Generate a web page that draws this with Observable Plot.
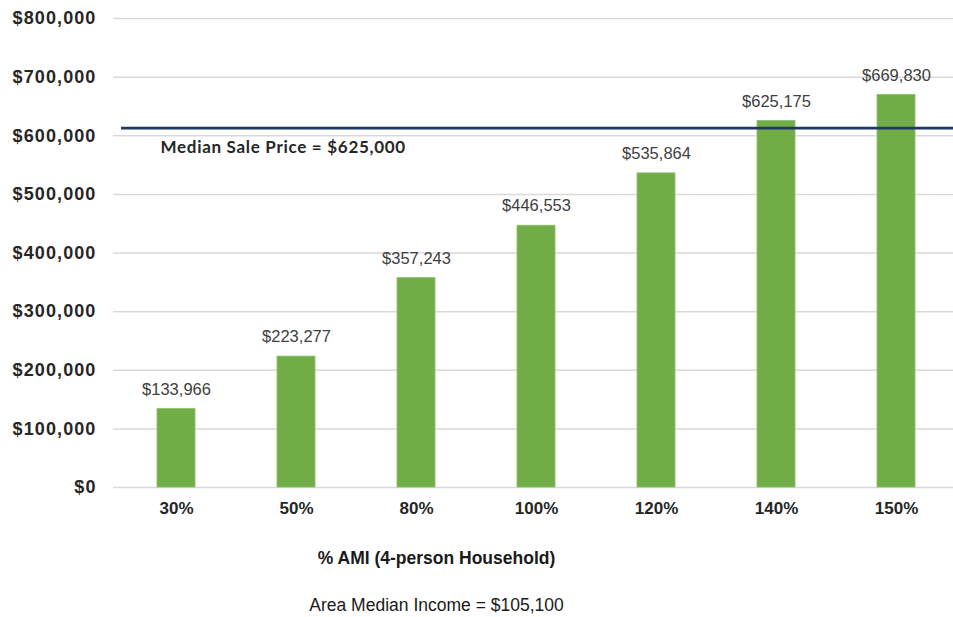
<!DOCTYPE html>
<html>
<head>
<meta charset="utf-8">
<script src="https://cdn.jsdelivr.net/npm/d3@7"></script>
<script src="https://cdn.jsdelivr.net/npm/@observablehq/plot@0.6"></script>
<style>
  html, body { margin: 0; padding: 0; background: #fff; overflow: hidden; }
  #chart { width: 953px; height: 617px; }
  .ylab text { letter-spacing: 1.1px; }
  .medlab text { letter-spacing: 0.7px; }
</style>
</head>
<body>
<div id="chart"></div>
<script>
// ---- data ----
const categories = ["30%", "50%", "80%", "100%", "120%", "140%", "150%"];
const prices = [133966, 223277, 357243, 446553, 535864, 625175, 669830];
const yTicks = [0, 100000, 200000, 300000, 400000, 500000, 600000, 700000, 800000];
const medianSalePrice = 625000;      // value in the label
const medianLineDrawn = 613000;      // level at which the line is drawn in the picture
const xLabel = "% AMI (4-person Household)";
const caption = "Area Median Income = $105,100";

const data = categories.map((c, i) => ({ami: c, price: prices[i]}));
const fmt = d3.format("$,");
const font = "'Liberation Sans', Arial, sans-serif";

const chart = Plot.plot({
  width: 953,
  height: 617,
  marginLeft: 113,
  marginRight: 0,
  marginTop: 18,
  marginBottom: 130,
  style: {fontFamily: font, background: "#fff", overflow: "visible"},
  x: {domain: categories, range: [112.6, 958.2], paddingInner: 0.685, paddingOuter: 0.3425, axis: null},
  y: {domain: [0, 800000], axis: null},
  marks: [
    Plot.ruleY(yTicks, {stroke: "#d9d9d9", strokeWidth: 1.5}),
    Plot.text(yTicks, {y: d => d, frameAnchor: "left", dx: -17, textAnchor: "end", text: d => fmt(d),
      fontSize: 18, fontWeight: "bold", fill: "#262626", className: "ylab"}),
    Plot.barY(data, {x: "ami", y: "price", fill: "#70AD47", stroke: "#8cc46a", strokeWidth: 0.8}),
    Plot.text(data, {x: "ami", y: "price", text: d => fmt(d.price), dy: -19.5, lineAnchor: "middle",
      fontSize: 16.5, fill: "#404040"}),
    Plot.text(categories, {x: d => d, frameAnchor: "bottom", dy: 21, lineAnchor: "middle", text: d => d,
      fontSize: 17, fontWeight: "bold", fill: "#262626"}),
    Plot.ruleY([medianLineDrawn], {stroke: "#1F3864", strokeWidth: 2.6, insetLeft: 8}),
    Plot.text([medianSalePrice], {y: () => medianLineDrawn, frameAnchor: "left", dx: 47, dy: 19.5,
      textAnchor: "start", lineAnchor: "middle", text: d => `Median Sale Price = ${fmt(d)}`,
      fontFamily: "Lato, 'Open Sans', sans-serif", fontWeight: "bold", fontSize: 17, fill: "#262626", className: "medlab"}),
    Plot.text([xLabel], {frameAnchor: "bottom-left", dx: 323, dy: 71, lineAnchor: "middle", textAnchor: "middle",
      text: d => d, fontSize: 17.5, fontWeight: "bold", fill: "#1a1a1a"}),
    Plot.text([caption], {frameAnchor: "bottom-left", dx: 323, dy: 118, lineAnchor: "middle", textAnchor: "middle",
      text: d => d, fontSize: 17.5, fill: "#1a1a1a"})
  ]
});
// fallback if className option is unsupported in this Plot build
const textGroups = chart.querySelectorAll('g[aria-label="text"]');
if (textGroups.length >= 4) {
  textGroups[0].classList.add("ylab");
  textGroups[3].classList.add("medlab");
}
document.getElementById("chart").appendChild(chart);
</script>
</body>
</html>
